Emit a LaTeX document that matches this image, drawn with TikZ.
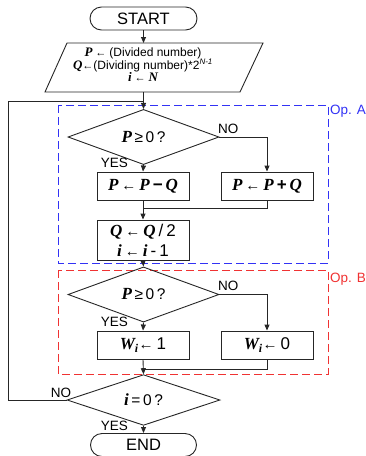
\documentclass[tikz,border=0pt]{standalone}
\usepackage{fontspec}
\setmainfont{Liberation Sans}
\newfontfamily\tms{Liberation Serif}
\usetikzlibrary{shapes.geometric,arrows.meta}
\newcommand{\vv}[1]{{\tms\bfseries\itshape #1}}
\newcommand{\sar}{{\fontsize{15}{15}\selectfont ←}}
\newcommand{\tar}{{\fontsize{11}{11}\selectfont ←}}
\newcommand{\gp}{\hspace{3pt}}
\definecolor{opblue}{RGB}{50,50,245}
\definecolor{opred}{RGB}{240,50,50}
\begin{document}
\begin{tikzpicture}[x=1pt,y=-1pt,
  ln/.style={draw=black!85, line width=0.9pt},
  arr/.style={ln, -{Triangle[length=6pt,width=5pt]}},
  procbox/.style={draw=black!85, line width=0.9pt, minimum width=92pt, minimum height=28pt, inner sep=0pt, font=\fontsize{17}{20}\selectfont, align=center},
  decis/.style={diamond, draw=black!85, line width=0.9pt, minimum width=151pt, minimum height=44pt, inner sep=0pt, font=\fontsize{15.5}{17}\selectfont},
  term/.style={draw=black!85, line width=0.9pt, rounded corners=11.5pt, minimum width=107pt, minimum height=23pt, inner sep=0pt, font=\fontsize{16.5}{18}\selectfont},
  lbl/.style={font=\fontsize{13.5}{15}\selectfont, inner sep=0pt},
  oplbl/.style={font=\fontsize{13.5}{15}\selectfont, inner sep=0pt, anchor=west},
  opbox/.style={dash pattern=on 8pt off 4pt, line width=1pt}
]
\useasboundingbox (0,0) rectangle (366,456);
% group boxes
\draw[opbox, opblue] (58,105) rectangle (328,263);
\node[oplbl, text=opblue] (opa) at (330,111) {Op. A};
\draw[opbox, opred] (58,270) rectangle (328,374);
\node[oplbl, text=opred] (opb) at (330,279) {Op. B};

% start
\node[term] (start) at (143.5,18.5) {START};
% input parallelogram
\draw[ln] (67,43) -- (263,43) -- (240,92) -- (45,92) -- cycle;
\coordinate (iotop) at (143.5,43);
\coordinate (iobot) at (143.5,92);
\node[font=\fontsize{12}{12.5}\selectfont, align=center, inner sep=0pt] (iotext) at (143,65)
  {{\fontsize{13}{13}\selectfont\vv{P}}\gp\tar\gp(Divided number)\\
   {\fontsize{13}{13}\selectfont\vv{Q}}\tar(Dividing number)*2\textsuperscript{\itshape N-1}\\
   {\fontsize{13}{13}\selectfont\vv{i}}\gp\tar\gp{\fontsize{13}{13}\selectfont\vv{N}}};

% Op A
\node[decis] (d1) at (143.5,137) {{\fontsize{17}{17}\selectfont\vv{P}}\,≥\,0\,?};
\node[procbox] (b1) at (143,186) {\vv{P}\gp\sar\gp\vv{P}\gp{\bfseries −}\gp\vv{Q}};
\node[procbox] (b2) at (267,186) {\vv{P}\gp\sar\gp\vv{P}\gp{\bfseries +}\gp\vv{Q}};
\node[procbox, minimum height=40pt] (b3) at (143,240) {\vv{Q}\gp\sar\gp\vv{Q}\gp/\gp2\\\vv{i}\gp\sar\gp\vv{i}\gp-\gp1};

% Op B
\node[decis, minimum height=45pt] (d2) at (143.5,294.5) {{\fontsize{17}{17}\selectfont\vv{P}}\,≥\,0\,?};
\node[procbox] (b4) at (143,345) {\vv{W}\textsubscript{\vv{i}}\sar\gp1};
\node[procbox] (b5) at (267,345) {\vv{W}\textsubscript{\vv{i}}\sar\gp0};

\node[decis, minimum width=153pt, minimum height=46pt] (d3) at (143.5,400) {{\fontsize{17}{17}\selectfont\vv{i}}\,=\,0\,?};
\node[term, minimum width=106pt] (end) at (143.5,445) {END};

% coordinates
\coordinate (lc1) at (8,400);
\coordinate (lc2) at (8,101);
\coordinate (lj) at (143.5,101);
\coordinate (m1) at (143,208);
\coordinate (m2) at (143,369);

% connectors
\draw[arr] (start) -- (iotop);
\draw[arr] (iobot) -- (d1.north);
\draw[ln] (d3.west) -- (lc1) -- (lc2) -- (lj);
\draw[arr] (d1.south) -- (b1.north);
\draw[arr] (d1.east) -| (b2.north);
\draw[arr] (b1.south) -- (b3.north);
\draw[ln] (b2.south) |- (m1);
\draw[arr] (b3.south) -- (d2.north);
\draw[arr] (d2.south) -- (b4.north);
\draw[arr] (d2.east) -| (b5.north);
\draw[arr] (b4.south) -- (d3.north);
\draw[ln] (b5.south) |- (m2);
\draw[arr] (d3.south) -- (end.north);

% labels
\node[lbl, anchor=south west] (no1) at (218,134) {NO};
\node[lbl, anchor=east] (yes1) at (128,163) {YES};
\node[lbl, anchor=south west] (no2) at (218,291) {NO};
\node[lbl, anchor=east] (yes2) at (128,322) {YES};
\node[lbl, anchor=south] (no3) at (61,398) {NO};
\node[lbl, anchor=east] (yes3) at (128,426) {YES};
\end{tikzpicture}
\end{document}
